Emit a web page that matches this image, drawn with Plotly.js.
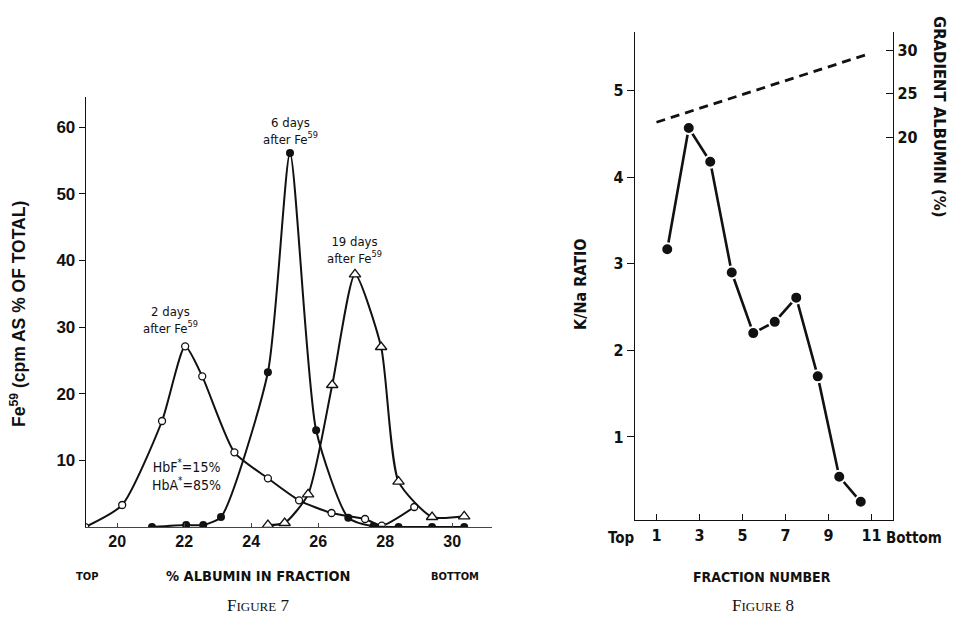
<!DOCTYPE html>
<html>
<head>
<meta charset="utf-8">
<script src="https://cdn.plot.ly/plotly-3.0.1.min.js"></script>
<style>html,body{margin:0;padding:0;background:#fff;}#chart{width:956px;height:627px;}</style>
</head>
<body>
<div id="chart"></div>
<script>
// ---- Figure 7 data ----
const albumin2day = [19.05, 20.15, 21.34, 22.03, 22.54, 23.5, 24.5, 25.43, 26.4, 27.4, 27.9, 28.87];
const fe2day      = [0, 3.3, 15.9, 27.1, 22.6, 11.2, 7.3, 4.0, 2.1, 1.2, 0.2, 3.0];
const albumin6day = [21.04, 22.06, 22.57, 23.1, 24.5, 25.16, 25.94, 26.9, 27.65, 28.4, 29.4, 30.36];
const fe6day      = [0, 0.3, 0.3, 1.5, 23.2, 56.1, 14.5, 1.4, 0.1, 0, 0, 0];
const albumin19day = [24.5, 25.0, 25.7, 26.42, 27.1, 27.88, 28.4, 29.4, 30.36];
const fe19day      = [0.3, 0.6, 4.9, 21.3, 37.9, 27.0, 6.8, 1.5, 1.6];
const fig7XTicks = [20, 22, 24, 26, 28, 30];
const fig7YTicks = [10, 20, 30, 40, 50, 60];

// ---- Figure 8 data ----
const fractionNumber = [1.5, 2.5, 3.5, 4.5, 5.5, 6.5, 7.5, 8.5, 9.5, 10.5];
const kNaRatio       = [3.17, 4.57, 4.18, 2.90, 2.20, 2.33, 2.61, 1.70, 0.54, 0.25];
const gradientFraction = [1, 10.8];
const gradientAlbumin  = [21.7, 29.5];
const fig8XTicks = [1, 3, 5, 7, 9, 11];
const fig8YTicks = [1, 2, 3, 4, 5];
const fig8Y2Ticks = [20, 25, 30];

const W = 956, H = 627;
const px = v => v / W;
const py = v => 1 - v / H;

const boldSans = 'Liberation Sans, Arial, sans-serif';
const cond = 'DejaVu Sans Condensed, Liberation Sans Narrow, DejaVu Sans, sans-serif';
const serif = 'Liberation Serif, DejaVu Serif, serif';

function cf(size, weight) {
  return {family: cond, size: size, color: '#111', weight: weight || 'normal', stretch: 'condensed'};
}

const lineStyle = {color: '#111', width: 2, shape: 'spline', smoothing: 0.6};

const traces = [
  {x: albumin2day, y: fe2day, xaxis: 'x', yaxis: 'y', mode: 'lines+markers',
   line: lineStyle,
   marker: {symbol: 'circle', size: 7, color: '#fff', line: {color: '#111', width: 1.3}}},
  {x: albumin6day, y: fe6day, xaxis: 'x', yaxis: 'y', mode: 'lines+markers',
   line: lineStyle,
   marker: {symbol: 'circle', size: 8, color: '#111'}},
  {x: albumin19day, y: fe19day, xaxis: 'x', yaxis: 'y', mode: 'lines+markers',
   line: lineStyle,
   marker: {symbol: 'triangle-up', size: 10, color: '#fff', line: {color: '#111', width: 1.3}}},
  {x: gradientFraction, y: gradientAlbumin, xaxis: 'x2', yaxis: 'y3', mode: 'lines',
   line: {color: '#111', width: 2.8, dash: '9px,6px'}},
  {x: fractionNumber, y: kNaRatio, xaxis: 'x2', yaxis: 'y2', mode: 'lines+markers',
   line: {color: '#111', width: 2.6},
   marker: {symbol: 'circle', size: 12, color: '#111', line: {color: '#fff', width: 2}}}
];

function ann(xref, yref, x, y, text, font, extra) {
  return Object.assign({xref: xref, yref: yref, x: x, y: y, text: text, showarrow: false,
    xanchor: 'center', yanchor: 'middle', font: font}, extra || {});
}

const layout = {
  width: W, height: H,
  margin: {l: 0, r: 0, t: 0, b: 0},
  paper_bgcolor: '#fff', plot_bgcolor: 'rgba(0,0,0,0)',
  showlegend: false,
  xaxis: {
    domain: [px(86), px(492)], range: [19.07, 31.19], anchor: 'y',
    showgrid: false, zeroline: false, showline: true, linecolor: '#444', linewidth: 1,
    ticks: 'inside', ticklen: 4, tickcolor: '#444',
    tickvals: fig7XTicks, ticktext: fig7XTicks.map(String),
    tickfont: {family: boldSans, size: 16, color: '#111', weight: 'bold'}
  },
  yaxis: {
    domain: [py(527), py(97)], range: [0, 64.5], anchor: 'x',
    showgrid: false, zeroline: false, showline: true, linecolor: '#111', linewidth: 1.3,
    ticks: 'outside', ticklen: 6, tickcolor: '#111',
    tickvals: fig7YTicks, ticktext: fig7YTicks.map(String),
    tickfont: {family: boldSans, size: 17, color: '#111', weight: 'bold'}
  },
  xaxis2: {
    domain: [px(635), px(893)], range: [0, 12], anchor: 'y2',
    showgrid: false, zeroline: false, showline: true, linecolor: '#111', linewidth: 1.3,
    ticks: 'inside', ticklen: 6, tickcolor: '#111',
    tickvals: fig8XTicks, ticktext: fig8XTicks.map(String),
    tickfont: cf(16, 'bold')
  },
  yaxis2: {
    domain: [py(520), py(32)], range: [0.04, 5.68], anchor: 'x2',
    showgrid: false, zeroline: false, showline: true, linecolor: '#111', linewidth: 1.3,
    ticks: 'outside', ticklen: 7, tickcolor: '#111',
    tickvals: fig8YTicks, ticktext: fig8YTicks.map(String),
    tickfont: cf(16, 'bold')
  },
  yaxis3: {
    domain: [py(520), py(32)], range: [-24, 32.07], anchor: 'x2', overlaying: 'y2', side: 'right',
    showgrid: false, zeroline: false, showline: true, linecolor: '#111', linewidth: 1.3,
    ticks: 'inside', ticklen: 7, tickcolor: '#111',
    tickvals: fig8Y2Ticks, ticktext: fig8Y2Ticks.map(String),
    tickfont: cf(16, 'bold')
  },
  annotations: [
    // Figure 7 texts
    ann('x', 'y', 21.58, 31.0, '2 days<br>after Fe<sup>59</sup>', cf(13)),
    ann('x', 'y', 25.16, 59.4, '6 days<br>after Fe<sup>59</sup>', cf(13)),
    ann('x', 'y', 27.1, 41.5, '19 days<br>after Fe<sup>59</sup>', cf(13)),
    ann('x', 'y', 22.06, 7.8, 'HbF<sup>*</sup>=15%<br>HbA<sup>*</sup>=85%', cf(14)),
    ann('paper', 'paper', px(18), py(314), '<b>Fe<sup>59</sup> (cpm AS % OF TOTAL)</b>',
        {family: boldSans, size: 17.5, color: '#111'}, {textangle: -90}),
    ann('paper', 'paper', px(87), py(576), 'TOP', cf(11, 'bold')),
    ann('paper', 'paper', px(258), py(576), '% ALBUMIN IN FRACTION', cf(14.5, 'bold')),
    ann('paper', 'paper', px(455), py(576), 'BOTTOM', cf(11, 'bold')),
    ann('paper', 'paper', px(258), py(605), 'F<span style="font-size:13px">IGURE</span> 7',
        {family: serif, size: 17, color: '#111'}),
    // Figure 8 texts
    ann('paper', 'paper', px(580), py(284), 'K/Na RATIO', cf(16, 'bold'), {textangle: -90}),
    ann('paper', 'paper', px(940), py(116), 'GRADIENT ALBUMIN (%)', cf(16.5, 'bold'), {textangle: 90}),
    ann('paper', 'paper', px(621), py(538), 'Top', cf(15, 'bold')),
    ann('paper', 'paper', px(914), py(538), 'Bottom', cf(15, 'bold')),
    ann('paper', 'paper', px(762), py(577), 'FRACTION NUMBER', cf(14, 'bold')),
    ann('paper', 'paper', px(763), py(605), 'F<span style="font-size:13px">IGURE</span> 8',
        {family: serif, size: 17, color: '#111'})
  ]
};

Plotly.newPlot('chart', traces, layout, {staticPlot: true, displayModeBar: false});
</script>
</body>
</html>
